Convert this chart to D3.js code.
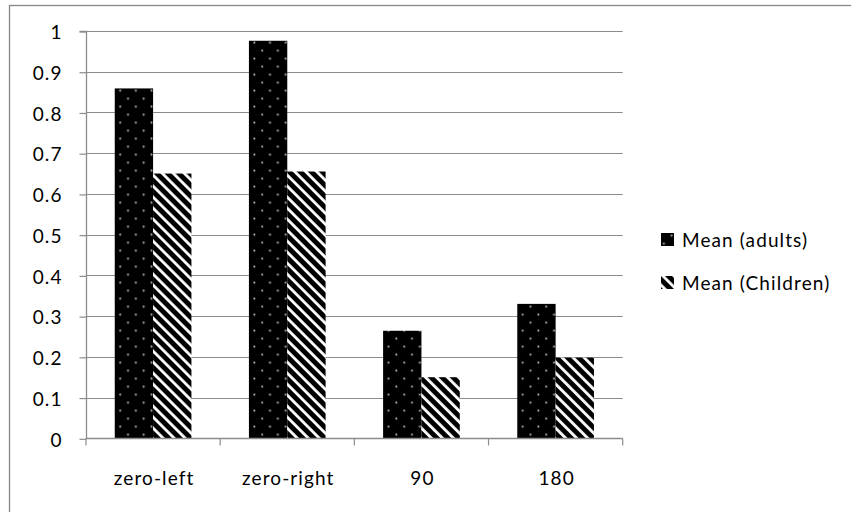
<!DOCTYPE html>
<html><head><meta charset="utf-8">
<script src="https://cdn.jsdelivr.net/npm/d3@7"></script>
<style>html,body{margin:0;padding:0;background:#fff;} text{font-family:Lato,"Open Sans",sans-serif;}</style>
</head><body>
<svg id="c" width="851" height="512"></svg>
<script>
const categories = ["zero-left", "zero-right", "90", "180"];
const seriesNames = ["Mean (adults)", "Mean (Children)"];
const adults = [0.859, 0.976, 0.264, 0.330];
const children = [0.650, 0.655, 0.150, 0.198];
const yTicks = [0, 0.1, 0.2, 0.3, 0.4, 0.5, 0.6, 0.7, 0.8, 0.9, 1];
const yTickLabels = ["0", "0.1", "0.2", "0.3", "0.4", "0.5", "0.6", "0.7", "0.8", "0.9", "1"];

(function () {
const svg = d3.select("#c");
const gridCol = "#8c8c8c";
const fontSize = 19, ls = "1.1px";

const defs = svg.append("defs");
const dots = defs.append("pattern").attr("id", "dots").attr("patternUnits", "userSpaceOnUse")
  .attr("width", 15.67).attr("height", 16).attr("x", 1.5).attr("y", 9.3);
dots.append("rect").attr("width", 15.67).attr("height", 16).attr("fill", "#000");
dots.append("rect").attr("x", 0.5).attr("y", 0.5).attr("width", 1.7).attr("height", 1.7).attr("fill", "#d4d4d4");
dots.append("rect").attr("x", 8.3).attr("y", 8.5).attr("width", 1.7).attr("height", 1.7).attr("fill", "#d4d4d4");

const pw = 11 / Math.SQRT2;
const stripes = defs.append("pattern").attr("id", "stripes").attr("patternUnits", "userSpaceOnUse")
  .attr("width", pw).attr("height", 20).attr("patternTransform", "rotate(-45)");
stripes.append("rect").attr("width", pw).attr("height", 20).attr("fill", "#000");
stripes.append("rect").attr("x", 0).attr("width", pw * 0.36).attr("height", 20).attr("fill", "#fff");

const fills = ["url(#dots)", "url(#stripes)"];

svg.append("rect").attr("x", 9.5).attr("y", 5.5).attr("width", 860).attr("height", 520)
  .attr("fill", "none").attr("stroke", "#868686").attr("stroke-width", 1.3);

const pLeft = 86, pRight = 622.7, pTop = 31, pBottom = 438.3;
const y = d3.scaleLinear().domain([0, 1]).range([pBottom, pTop]);
const x0 = d3.scaleBand().domain(categories).range([pLeft, pRight]).padding(0);
const x1 = d3.scaleBand().domain(seriesNames).range([0, x0.bandwidth()]).paddingInner(0).paddingOuter(0.75);

svg.append("g").selectAll("line").data(yTicks.slice(1)).join("line")
  .attr("x1", pLeft).attr("x2", pRight)
  .attr("y1", d => Math.round(y(d)) + 0.5).attr("y2", d => Math.round(y(d)) + 0.5)
  .attr("stroke", gridCol).attr("stroke-width", 1.2);

const data = categories.map((c, i) => ({ c, vals: [adults[i], children[i]] }));
const g = svg.append("g").selectAll("g").data(data).join("g")
  .attr("transform", d => `translate(${x0(d.c)},0)`);
g.selectAll("rect").data(d => d.vals.map((v, j) => ({ v, s: seriesNames[j], j }))).join("rect")
  .attr("x", d => x1(d.s)).attr("width", x1.bandwidth())
  .attr("y", d => y(d.v)).attr("height", d => y(0) - y(d.v))
  .attr("fill", d => fills[d.j]);

const yAxis = d3.axisLeft(y).tickValues(yTicks).tickSize(7).tickFormat((d, i) => yTickLabels[i]);
const ya = svg.append("g").attr("transform", `translate(${pLeft + 0.5},0.5)`).call(yAxis);
ya.select(".domain").attr("stroke", gridCol).attr("stroke-width", 1.3).attr("d", `M-7,${y(1)}H0V${y(0)}`);
ya.selectAll(".tick line").attr("stroke", gridCol).attr("stroke-width", 1.2);
ya.selectAll(".tick text").attr("x", -24).attr("dy", "0.38em").attr("font-size", fontSize)
  .attr("letter-spacing", ls).attr("fill", "#000").style("font-family", "Lato");

const xa = svg.append("g").attr("transform", `translate(0,${Math.round(pBottom) + 0.5})`);
xa.append("line").attr("x1", pLeft).attr("x2", pRight).attr("stroke", gridCol).attr("stroke-width", 1.4);
const bounds = categories.map(c => x0(c)).concat([pRight]);
xa.selectAll("line.t").data(bounds).join("line").attr("class", "t")
  .attr("x1", d => d).attr("x2", d => d).attr("y1", 0).attr("y2", 7)
  .attr("stroke", gridCol).attr("stroke-width", 1.2);
svg.append("g").selectAll("text").data(categories).join("text")
  .attr("x", d => x0(d) + x0.bandwidth() / 2 + 1).attr("y", 484.5)
  .attr("text-anchor", "middle").attr("font-size", fontSize).attr("letter-spacing", ls)
  .attr("fill", "#000").text(d => d);

const leg = svg.append("g").selectAll("g").data(seriesNames).join("g")
  .attr("transform", (d, i) => `translate(661,${233 + i * 43})`);
leg.append("rect").attr("x", 0).attr("y", 0).attr("width", 13).attr("height", 13)
  .attr("fill", (d, i) => fills[i]);
leg.append("text").attr("x", 21).attr("y", 14).attr("font-size", fontSize).attr("letter-spacing", ls)
  .attr("fill", "#000").text(d => d);
})();
</script>
</body></html>
